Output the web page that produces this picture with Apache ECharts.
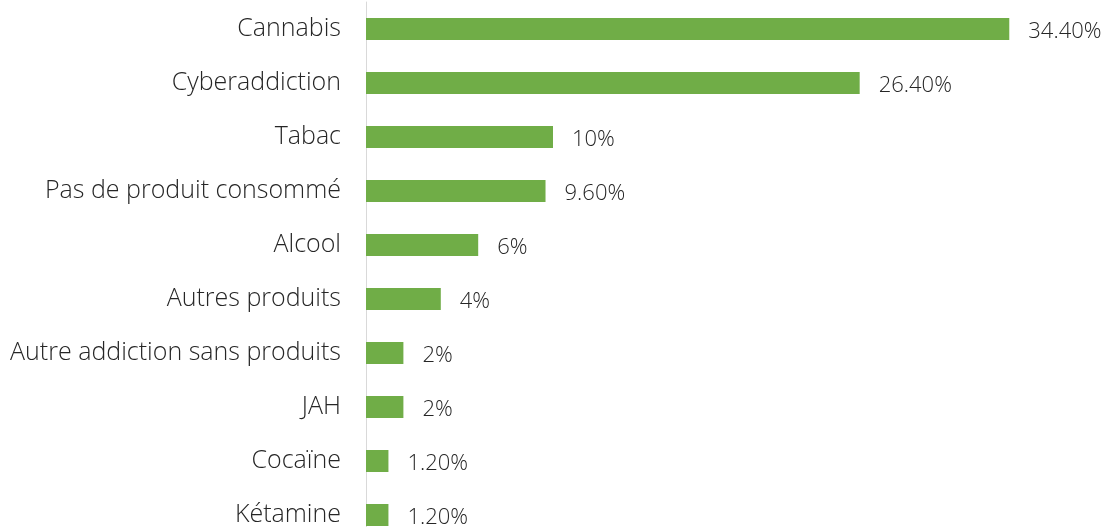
<!DOCTYPE html>
<html>
<head>
<meta charset="utf-8">
<script src="https://cdn.jsdelivr.net/npm/echarts@6/dist/echarts.min.js"></script>
<style>
  html, body { margin: 0; padding: 0; background: #fff; overflow: hidden; }
  #chart { width: 1120px; height: 545px; }
</style>
</head>
<body>
<div id="chart"></div>
<script>
const categories = ['Cannabis', 'Cyberaddiction', 'Tabac', 'Pas de produit consommé', 'Alcool',
  'Autres produits', 'Autre addiction sans produits', 'JAH', 'Cocaïne', 'Kétamine']
const values = [34.4, 26.4, 10, 9.6, 6, 4, 2, 2, 1.2, 1.2]
const valueLabels = ['34.40%', '26.40%', '10%', '9.60%', '6%', '4%', '2%', '2%', '1.20%', '1.20%']

const fontFamily = '"Open Sans", "Noto Sans", sans-serif'
// the chart is bigger than the window: the last row is cut off like in the original
const chart = echarts.init(document.getElementById('chart'))

chart.setOption({
  animation: false,
  grid: {
    left: 366,
    top: 2,
    width: 748,
    height: 540
  },
  xAxis: {
    type: 'value',
    min: 0,
    max: 40,
    show: false,
    splitLine: { show: false }
  },
  yAxis: {
    type: 'category',
    inverse: true,
    data: categories,
    axisTick: { show: false },
    axisLine: { show: true, lineStyle: { color: '#d9d9d9', width: 1 } },
    axisLabel: {
      margin: 25,
      fontSize: 25,
      fontWeight: 300,
      fontFamily: fontFamily,
      color: '#262626',
      padding: [5, 0, 0, 0]
    }
  },
  series: [{
    type: 'bar',
    data: values,
    barWidth: 22,
    itemStyle: { color: '#70ad47' },
    label: {
      show: true,
      position: 'right',
      distance: 19,
      offset: [0, 3],
      fontSize: 22,
      fontWeight: 300,
      fontFamily: fontFamily,
      color: '#262626',
      formatter: p => valueLabels[p.dataIndex]
    }
  }]
})
</script>
</body>
</html>
